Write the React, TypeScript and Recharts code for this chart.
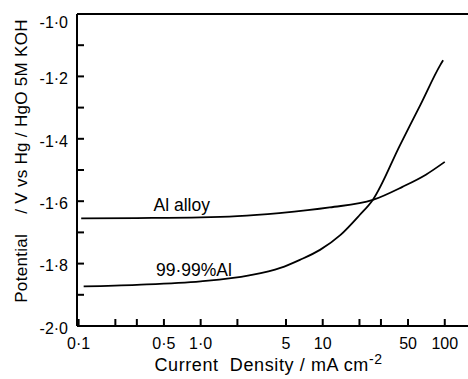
import { LineChart, Line, XAxis, YAxis, ReferenceLine, ReferenceDot } from "recharts";

// (log current density, mA cm^-2 vs potential, V)
const alloyCurrent = [0.105, 0.3, 1, 2, 4.4, 11.4, 25.7, 45, 70, 100];
const alloyPotential = [-1.655, -1.654, -1.652, -1.648, -1.638, -1.62, -1.596, -1.554, -1.515, -1.474];

const pureCurrent = [0.11, 0.3, 1, 2.5, 4.5, 6.5, 9.5, 14, 20, 25.7, 43, 63, 92, 97];
const purePotential = [-1.873, -1.868, -1.857, -1.838, -1.814, -1.788, -1.756, -1.708, -1.645, -1.596, -1.42, -1.292, -1.163, -1.148];

const xTicks = [0.1, 0.2, 0.3, 0.5, 1, 2, 5, 10, 20, 30, 50, 100];
const xLabels: Record<number, string> = { 0.1: "0·1", 0.5: "0·5", 1: "1·0", 5: "5", 10: "10", 50: "50", 100: "100" };

const yTicks = [-2.0, -1.9, -1.8, -1.7, -1.6, -1.5, -1.4, -1.3, -1.2, -1.1, -1.0];
const yLabels: Record<string, string> = {
  "-2.0": "-2·0", "-1.8": "-1·8", "-1.6": "-1·6", "-1.4": "-1·4", "-1.2": "-1·2", "-1.0": "-1·0",
};

const alloyData = alloyCurrent.map((x, i) => ({ x, y: alloyPotential[i] }));
const pureData = pureCurrent.map((x, i) => ({ x, y: purePotential[i] }));

const FONT = "'Liberation Sans', Arial, sans-serif";
const TICK_LEN = 7;

function YTick(props: any) {
  const { x, y, payload } = props;
  const label = yLabels[payload.value.toFixed(1)];
  if (!label) return null;
  const extra = payload.value === -1.0 ? 8 : 2;
  return (
    <text x={x} y={y + extra} dy="0.36em" textAnchor="end" fontSize={16} fontFamily={FONT} fill="#000">
      {label}
    </text>
  );
}

function XTick(props: any) {
  const { x, y, payload } = props;
  const label = xLabels[payload.value];
  if (!label) return null;
  return (
    <text x={x} y={y} dy="0.71em" textAnchor="middle" fontSize={16} fontFamily={FONT} fill="#000">
      {label}
    </text>
  );
}

// inward tick marks: short stubs cut from reference lines at each tick value
function YMark(props: any) {
  const { x1, x2, y1 } = props;
  const left = Math.min(x1, x2);
  return <line x1={left} x2={left + TICK_LEN} y1={y1} y2={y1} stroke="#000" strokeWidth={2} />;
}

function XMark(props: any) {
  const { x1, y1, y2 } = props;
  const bottom = Math.max(y1, y2);
  return <line x1={x1} x2={x1} y1={bottom} y2={bottom - TICK_LEN} stroke="#000" strokeWidth={2} />;
}

function XTitle(props: any) {
  const vb = props.viewBox;
  return (
    <text x={vb.x + vb.width / 2 - 4} y={vb.y + vb.height - 8} textAnchor="middle" fontSize={18} letterSpacing={0.6} fontFamily={FONT} fill="#000" style={{ whiteSpace: "pre" }}>
      Current  Density / mA cm
      <tspan dy={-7} fontSize={14}>-2</tspan>
    </text>
  );
}

function YTitle(props: any) {
  const vb = props.viewBox;
  const cx = vb.x + 21;
  const cy = vb.y + vb.height / 2 - 9;
  return (
    <text x={cx} y={cy} transform={`rotate(-90 ${cx} ${cy})`} textAnchor="middle" dominantBaseline="central" fontSize={17} letterSpacing={0.3} fontFamily={FONT} fill="#000" style={{ whiteSpace: "pre" }}>
      {"Potential    / V vs Hg / HgO 5M KOH"}
    </text>
  );
}

export default function App() {
  return (
    <div style={{ position: "absolute", left: 0, top: 0, background: "#fff" }}>
      <LineChart width={468} height={379} margin={{ top: 14, right: 0, bottom: 0, left: 0 }}>
        <XAxis
          dataKey="x"
          type="number"
          scale="log"
          domain={[0.097, 155]}
          allowDataOverflow
          ticks={xTicks}
          interval={0}
          height={53}
          stroke="#000"
          strokeWidth={2}
          tickLine={false}
          tickSize={0}
          tickMargin={12}
          tick={<XTick />}
          label={<XTitle />}
        />
        <YAxis
          dataKey="y"
          type="number"
          domain={[-2.0, -1.0]}
          ticks={yTicks}
          interval={0}
          width={77}
          stroke="#000"
          strokeWidth={2}
          tickLine={false}
          tickSize={0}
          tickMargin={9}
          tick={<YTick />}
          label={<YTitle />}
        />
        <ReferenceLine y={-1.0} stroke="#000" strokeWidth={2} />
        {yTicks.map((v) => (
          <ReferenceLine key={`ym${v}`} y={v} shape={<YMark />} />
        ))}
        {xTicks.map((v) => (
          <ReferenceLine key={`xm${v}`} x={v} shape={<XMark />} />
        ))}
        <Line data={alloyData} dataKey="y" type="monotone" stroke="#000" strokeWidth={1.8} dot={false} isAnimationActive={false} />
        <Line data={pureData} dataKey="y" type="monotone" stroke="#000" strokeWidth={1.8} dot={false} isAnimationActive={false} />
        <ReferenceDot x={0.7} y={-1.612} r={0} label={{ value: "Al alloy", position: "center", fontSize: 17.5, fontFamily: FONT, fill: "#000" }} />
        <ReferenceDot x={0.88} y={-1.82} r={0} label={{ value: "99·99%Al", position: "center", fontSize: 17.5, fontFamily: FONT, fill: "#000" }} />
      </LineChart>
    </div>
  );
}
